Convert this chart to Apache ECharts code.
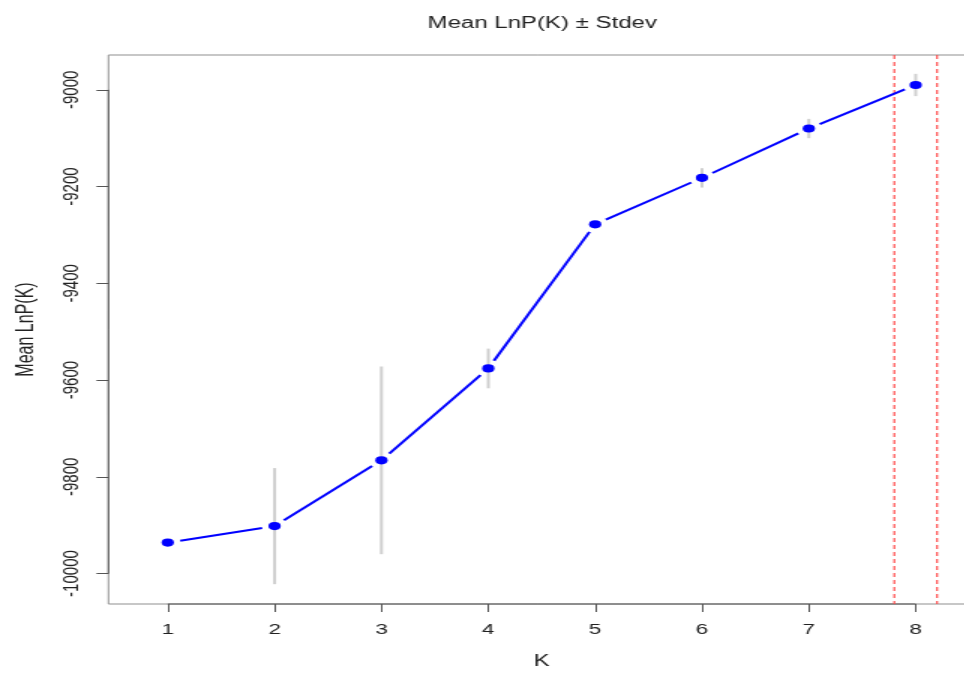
<!DOCTYPE html>
<html>
<head>
<meta charset="utf-8">
<title>Mean LnP(K) ± Stdev</title>
<script src="https://cdn.jsdelivr.net/npm/echarts@6/dist/echarts.min.js"></script>
<style>
  html, body { margin: 0; padding: 0; background: #fff; overflow: hidden; }
  /* the plot is laid out narrow and widened horizontally, like the exported figure */
  #chart { width: 643px; height: 673px; transform: scaleX(1.5); transform-origin: 0 0; }
</style>
</head>
<body>
<div id="chart"></div>
<script>
// Mean log-likelihood of the data for each number of clusters K
const kValues  = [1, 2, 3, 4, 5, 6, 7, 8];
const meanLnP  = [-9936, -9902, -9766, -9576, -9278, -9182, -9080, -8990];
const stdevLnP = [4, 120, 194, 41, 6, 20, 20, 23];

// tick labels
const xTicks = [1, 2, 3, 4, 5, 6, 7, 8];
const yTicks = [-10000, -9800, -9600, -9400, -9200, -9000];

// K range marked with dashed reference lines
const markedK = [7.8, 8.2];

const FONT = '"Liberation Sans", Arial, Helvetica, sans-serif';
const AXIS_DARK = '#555555';

const chart = echarts.init(document.getElementById('chart'), null, { renderer: 'canvas' });

// gap left between the connecting line and each point (R type = "b")
const GAP = 8.5;

chart.setOption({
  animation: false,
  title: {
    text: 'Mean LnP(K) \u00B1 Stdev',
    left: 356.5,
    top: 11,
    textAlign: 'center',
    textStyle: { fontFamily: FONT, fontSize: 16, fontWeight: 'normal', color: '#222' }
  },
  grid: {
    left: 72.3, top: 55, right: -7, bottom: 69,
    show: true, borderColor: '#8f8f8f', borderWidth: 1,
    outerBoundsMode: 'none'
  },
  xAxis: {
    type: 'value',
    min: 0.445, max: 8.555,
    name: 'K', nameLocation: 'middle', nameGap: 50,
    nameTextStyle: { fontFamily: FONT, fontSize: 16, color: '#222' },
    axisLine: { show: false },
    splitLine: { show: false },
    axisTick: { show: true, length: 8, customValues: xTicks, lineStyle: { color: AXIS_DARK, width: 1 } },
    axisLabel: { customValues: xTicks, margin: 18, fontFamily: FONT, fontSize: 15, color: '#222',
      formatter: v => String(v) }
  },
  yAxis: {
    type: 'value',
    min: -10063, max: -8928,
    name: 'Mean LnP(K)', nameLocation: 'middle', nameGap: 47,
    nameTextStyle: { fontFamily: FONT, fontSize: 16, color: '#222' },
    axisLine: { show: false },
    splitLine: { show: false },
    axisTick: { show: true, length: 8, customValues: yTicks, lineStyle: { color: AXIS_DARK, width: 1 } },
    axisLabel: { customValues: yTicks, rotate: 90, margin: 17, fontFamily: FONT, fontSize: 15, color: '#222',
      formatter: v => String(v) }
  },
  series: [
    {
      // axis lines spanning the first to last tick
      type: 'custom',
      silent: true,
      clip: false,
      data: [0],
      renderItem: function (params, api) {
        const cs = params.coordSys;
        const xl = api.coord([xTicks[0], 0])[0];
        const xr = api.coord([xTicks[xTicks.length - 1], 0])[0];
        const yb = api.coord([0, yTicks[0]])[1];
        const yt = api.coord([0, yTicks[yTicks.length - 1]])[1];
        const by = cs.y + cs.height;
        return {
          type: 'group',
          children: [
            { type: 'line', shape: { x1: xl, y1: by, x2: xr, y2: by }, style: { stroke: AXIS_DARK, lineWidth: 1 } },
            { type: 'line', shape: { x1: cs.x, y1: yb, x2: cs.x, y2: yt }, style: { stroke: AXIS_DARK, lineWidth: 1 } }
          ]
        };
      }
    },
    {
      // dashed reference lines
      type: 'custom',
      silent: true,
      data: markedK.map(k => [k]),
      renderItem: function (params, api) {
        const cs = params.coordSys;
        const x = api.coord([api.value(0), 0])[0];
        return {
          type: 'line',
          shape: { x1: x, y1: cs.y, x2: x, y2: cs.y + cs.height },
          style: { stroke: '#ff4a4a', lineWidth: 1.2, lineDash: [4, 3] }
        };
      }
    },
    {
      // ± standard deviation bars
      type: 'custom',
      silent: true,
      data: kValues.map((k, i) => [k, meanLnP[i] - stdevLnP[i], meanLnP[i] + stdevLnP[i]]),
      renderItem: function (params, api) {
        const lo = api.coord([api.value(0), api.value(1)]);
        const hi = api.coord([api.value(0), api.value(2)]);
        return {
          type: 'line',
          shape: { x1: lo[0], y1: lo[1], x2: hi[0], y2: hi[1] },
          style: { stroke: '#cfcfcf', lineWidth: 2 }
        };
      }
    },
    {
      // connecting segments, stopping short of each point
      type: 'custom',
      silent: true,
      data: kValues.slice(0, -1).map((k, i) => [k, meanLnP[i], kValues[i + 1], meanLnP[i + 1]]),
      renderItem: function (params, api) {
        const a = api.coord([api.value(0), api.value(1)]);
        const b = api.coord([api.value(2), api.value(3)]);
        const dx = b[0] - a[0], dy = b[1] - a[1];
        const len = Math.sqrt(dx * dx + dy * dy);
        const ux = dx / len, uy = dy / len;
        return {
          type: 'line',
          shape: {
            x1: a[0] + ux * GAP, y1: a[1] + uy * GAP,
            x2: b[0] - ux * GAP, y2: b[1] - uy * GAP
          },
          style: { stroke: '#0000ff', lineWidth: 2 }
        };
      }
    },
    {
      type: 'scatter',
      data: kValues.map((k, i) => [k, meanLnP[i]]),
      symbol: 'circle',
      symbolSize: 8.2,
      itemStyle: { color: '#0000ff', opacity: 1 },
      silent: true
    }
  ]
});
</script>
</body>
</html>
